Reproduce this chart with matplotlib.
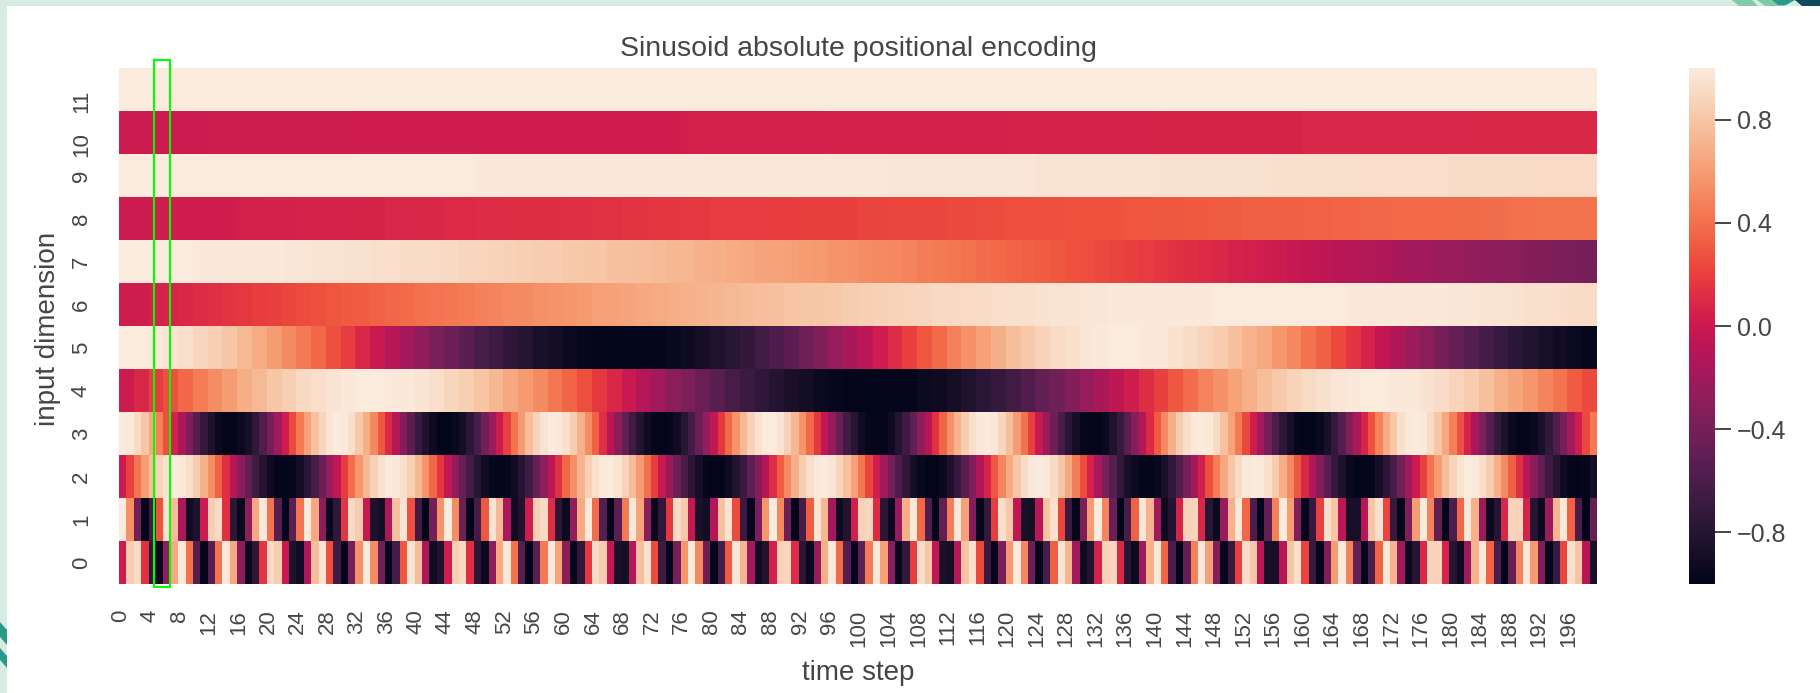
import numpy as np
import matplotlib
matplotlib.use('Agg')
import matplotlib.pyplot as plt
import matplotlib.transforms as mtransforms
import seaborn as sns
from matplotlib.patches import Polygon, Rectangle

plt.rcParams['font.family'] = ['Liberation Sans', 'DejaVu Sans']

W, H = 1820, 693
TEXT = '#454545'

# rows 0-3 read for every time step
dim_0 = [0.00,.84,.91,.14,-.76,-.96,-.28,.66,.99,.41,-.54,-1.00,-.54,.42,.99,.65,-.29,-.96,-.75,.15,
         .91,.84,-.01,-.85,-.91,-.13,.76,.96,.27,-.66,-.99,-.40,.55,1.00,.53,-.43,-.99,-.64,.30,.96,
         .75,-.16,-.92,-.83,.02,.85,.90,.12,-.77,-.95,-.26,.67,.99,.40,-.56,-1.00,-.52,.44,.99,.64,
         -.30,-.97,-.74,.17,.92,.83,-.03,-.86,-.90,-.11,.77,.95,.25,-.68,-.99,-.39,.57,1.00,.51,-.44,
         -.99,-.63,.31,.97,.73,-.18,-.92,-.82,.04,.86,.89,.11,-.78,-.95,-.25,.68,.98,.38,-.57,-1.00,
         -.51,.45,.99,.62,-.32,-.97,-.73,.19,.93,.81,-.04,-.86,-.89,-.10,.79,.94,.24,-.69,-.98,-.37,
         .58,1.00,.50,-.46,-1.00,-.62,.33,.97,.72,-.20,-.93,-.81,.06,.87,.89,.09,-.79,-.94,-.23,.70,
         .98,.36,-.59,-1.00,-.49,.47,.99,.61,-.34,-.97,-.71,.20,.93,.80,-.07,-.87,-.88,-.08,.80,.94,
         .22,-.70,-.98,-.35,.60,1.00,.48,-.48,-.99,-.60,.35,.98,.71,-.21,-.94,-.80,.08,.88,.87,.07,
         -.80,-.93,-.21,.71,.98,.34,-.61,-1.00,-.47,.49,.99,.59,-.35,-.98,-.70,.22,.94,.79,-.09,-.88]
dim_1 = [1.00,.54,-.42,-.99,-.65,.28,.96,.75,-.15,-.91,-.84,.00,.84,.91,.14,-.76,-.96,-.28,.66,.99,
         .41,-.55,-1.00,-.53,.42,.99,.65,-.29,-.96,-.75,.15,.91,.83,-.01,-.85,-.90,-.13,.77,.96,.27,
         -.67,-.99,-.40,.56,1.00,.53,-.44,-.99,-.64,.30,.96,.74,-.16,-.92,-.83,.02,.85,.90,.12,-.77,
         -.95,-.26,.67,.99,.39,-.56,-1.00,-.52,.44,.99,.63,-.31,-.97,-.74,.17,.92,.82,-.03,-.86,-.90,
         -.11,.78,.95,.25,-.68,-.98,-.38,.57,1.00,.51,-.45,-.99,-.63,.32,.97,.73,-.18,-.93,-.82,.04,
         .86,.89,.10,-.78,-.95,-.24,.69,.98,.37,-.58,-1.00,-.50,.46,.99,.62,-.33,-.97,-.72,.19,.93,
         .81,-.05,-.87,-.89,-.09,.79,.94,.23,-.69,-.98,-.37,.59,1.00,.49,-.46,-1.00,-.61,.34,.97,.71,
         -.20,-.93,-.81,.06,.87,.88,.08,-.79,-.94,-.23,.70,.98,.36,-.60,-1.00,-.49,.47,1.00,.60,-.34,
         -.97,-.71,.21,.94,.80,-.07,-.88,-.88,-.08,.80,.94,.22,-.71,-.98,-.35,.60,1.00,.48,-.49,-1.00,
         -.60,.36,.98,.70,-.22,-.94,-.80,.08,.88,.87,.06,-.80,-.94,-.21,.72,.98,.34,-.61,-.99,-.47]
dim_2 = [0.00,.21,.42,.60,.76,.88,.96,1.00,.99,.93,.83,.70,.53,.33,.12,-.09,-.30,-.50,-.67,-.81,
         -.92,-.98,-1.00,-.97,-.90,-.78,-.63,-.45,-.25,-.04,.18,.39,.57,.74,.86,.95,1.00,.99,.94,.85,
         .73,.56,.36,.16,-.05,-.27,-.47,-.64,-.79,-.91,-.97,-1.00,-.98,-.92,-.80,-.66,-.48,-.28,-.07,.14,
         .36,.54,.71,.85,.94,.99,1.00,.96,.87,.75,.59,.40,.19,-.02,-.23,-.44,-.62,-.77,-.89,-.97,
         -1.00,-.99,-.93,-.82,-.69,-.51,-.32,-.11,.11,.32,.52,.69,.83,.93,.99,1.00,.97,.89,.78,.62,
         .43,.23,.02,-.20,-.41,-.59,-.75,-.88,-.96,-1.00,-1.00,-.95,-.85,-.71,-.54,-.35,-.14,.07,.29,.49,
         .67,.81,.92,.99,1.00,.98,.91,.80,.65,.46,.26,.05,-.17,-.38,-.56,-.73,-.87,-.95,-1.00,-1.00,
         -.96,-.87,-.74,-.58,-.39,-.18,.04,.26,.46,.65,.80,.91,.99,1.00,.99,.93,.83,.68,.50,.30,
         .09,-.13,-.35,-.54,-.71,-.85,-.95,-1.00,-1.00,-.98,-.89,-.77,-.61,-.42,-.21,.00,.21,.42,.60,.76,
         .88,.96,1.00,.99,.93,.83,.70,.53,.33,.12,-.09,-.30,-.50,-.67,-.81,-.92,-.98,-1.00,-.97,-.90]
dim_3 = [1.00,.98,.91,.80,.65,.47,.27,.06,-.15,-.36,-.55,-.72,-.85,-.94,-.99,-1.00,-.95,-.87,-.74,-.58,
         -.39,-.18,.03,.24,.44,.62,.78,.89,.97,1.00,.99,.93,.82,.68,.50,.30,.10,-.12,-.33,-.52,
         -.70,-.83,-.93,-.99,-1.00,-.96,-.89,-.76,-.61,-.42,-.21,.00,.21,.41,.59,.76,.87,.96,1.00,.99,
         .94,.84,.70,.53,.34,.13,-.08,-.29,-.49,-.67,-.81,-.92,-.98,-1.00,-.97,-.91,-.79,-.64,-.46,-.25,
         -.04,.17,.38,.56,.74,.86,.95,1.00,1.00,.96,.86,.73,.56,.37,.17,-.05,-.26,-.46,-.65,-.79,
         -.91,-.98,-1.00,-.98,-.92,-.81,-.67,-.49,-.28,-.08,.14,.35,.54,.71,.84,.94,.99,1.00,.97,.89,
         .76,.60,.41,.20,-.01,-.23,-.43,-.62,-.78,-.89,-.97,-1.00,-.99,-.94,-.84,-.70,-.52,-.32,-.11,.10,
         .31,.51,.69,.83,.93,.98,1.00,.98,.91,.78,.63,.44,.24,.03,-.20,-.40,-.60,-.76,-.88,-.97,
         -1.00,-1.00,-.96,-.86,-.72,-.55,-.35,-.15,.07,.28,.48,.67,.81,.93,.98,1.00,.98,.91,.80,.65,
         .47,.27,.06,-.16,-.36,-.55,-.72,-.85,-.94,-.99,-1.00,-.95,-.87,-.74,-.58,-.39,-.18,.03,.24,.44]

# rows 4-7 read every 2 time steps
dim_4 = [0.00,.09,.18,.27,.36,.45,.53,.60,.68,.74,.80,.85,.90,.93,.96,.98,1.00,1.00,.99,.98,
         .96,.93,.89,.85,.79,.73,.66,.59,.52,.43,.35,.26,.17,.08,-.01,-.11,-.20,-.29,-.38,-.46,
         -.54,-.62,-.69,-.75,-.81,-.86,-.90,-.94,-.97,-.99,-1.00,-1.00,-.99,-.98,-.95,-.92,-.89,-.84,-.78,-.72,
         -.65,-.58,-.50,-.42,-.34,-.25,-.16,-.06,.03,.12,.21,.30,.39,.48,.55,.63,.70,.76,.82,.87,
         .91,.94,.97,.99,1.00,1.00,.99,.98,.95,.92,.88,.83,.77,.70,.64,.57,.49,.41,.32,.24]
dim_5 = [1.00,1.00,.98,.96,.93,.89,.85,.80,.74,.67,.60,.52,.44,.36,.27,.18,.09,-.01,-.10,-.19,
         -.28,-.37,-.45,-.53,-.61,-.68,-.75,-.80,-.86,-.90,-.94,-.97,-.99,-1.00,-1.00,-.99,-.98,-.96,-.93,-.89,
         -.84,-.79,-.73,-.66,-.59,-.52,-.43,-.34,-.25,-.16,-.07,.02,.11,.21,.29,.38,.47,.55,.62,.69,
         .76,.82,.87,.91,.94,.97,.99,1.00,1.00,.99,.98,.95,.92,.88,.83,.77,.71,.65,.57,.50,
         .41,.33,.24,.15,.06,-.04,-.13,-.22,-.31,-.40,-.48,-.56,-.64,-.71,-.77,-.82,-.87,-.91,-.95,-.97]
dim_6 = [.01,.03,.05,.07,.09,.11,.13,.15,.17,.19,.21,.23,.25,.27,.29,.31,.32,.34,.36,.38,
         .40,.42,.43,.45,.47,.49,.51,.52,.54,.56,.57,.59,.61,.62,.64,.65,.67,.68,.70,.71,
         .72,.74,.75,.76,.78,.79,.80,.81,.82,.84,.85,.86,.87,.88,.89,.90,.90,.91,.92,.93,
         .94,.94,.95,.96,.96,.97,.97,.98,.98,.98,.99,.99,.99,.99,1.00,1.00,1.00,1.00,1.00,1.00,
         1.00,1.00,1.00,.99,.99,.99,.99,.98,.98,.98,.97,.97,.96,.96,.95,.94,.94,.93,.92,.91]
dim_7 = [1.00,1.00,1.00,1.00,1.00,.99,.99,.99,.99,.98,.98,.97,.97,.96,.96,.95,.95,.94,.93,.92,
         .92,.91,.90,.89,.88,.87,.86,.85,.84,.83,.82,.81,.80,.78,.77,.76,.75,.73,.72,.70,
         .69,.67,.66,.64,.63,.61,.60,.58,.56,.55,.53,.51,.50,.48,.46,.44,.43,.41,.39,.37,
         .35,.33,.32,.30,.28,.26,.24,.22,.20,.18,.16,.14,.12,.10,.08,.06,.04,.02,.00,-.02,
         -.04,-.06,-.08,-.10,-.12,-.14,-.16,-.18,-.20,-.22,-.24,-.26,-.28,-.29,-.31,-.33,-.35,-.37,-.39,-.40]

# rows 8-11 change slowly, read every 4 time steps
dim_8 = [.00,.01,.02,.03,.04,.05,.06,.06,.07,.08,.09,.10,.11,.12,.12,.13,.14,.15,.16,.17,.18,.18,.19,.20,.21,
         .22,.23,.23,.24,.25,.26,.27,.28,.28,.29,.30,.31,.32,.33,.33,.34,.35,.36,.37,.37,.38,.39,.40,.41,.41]
dim_9 = [1.00,1.00,1.00,1.00,1.00,1.00,1.00,1.00,1.00,1.00,1.00,1.00,.99,.99,.99,.99,.99,.99,.99,.99,.98,.98,.98,.98,.98,
         .98,.97,.97,.97,.97,.97,.96,.96,.96,.96,.95,.95,.95,.95,.94,.94,.94,.93,.93,.93,.92,.92,.92,.91,.91]
dim_10 = [.00,.00,.00,.01,.01,.01,.01,.01,.02,.02,.02,.02,.02,.03,.03,.03,.03,.03,.03,.04,.04,.04,.04,.04,.05,
          .05,.05,.05,.05,.05,.06,.06,.06,.06,.06,.07,.07,.07,.07,.07,.08,.08,.08,.08,.08,.08,.09,.09,.09,.09]
dim_11 = [1.00,1.00,1.00,1.00,1.00,1.00,1.00,1.00,1.00,1.00,1.00,1.00,1.00,1.00,1.00,1.00,1.00,1.00,1.00,1.00,1.00,1.00,1.00,1.00,1.00,
          1.00,1.00,1.00,1.00,1.00,1.00,1.00,1.00,1.00,1.00,1.00,1.00,1.00,1.00,1.00,1.00,1.00,1.00,1.00,1.00,1.00,1.00,1.00,1.00,1.00]

cbar_ticks = [-0.8, -0.4, 0.0, 0.4, 0.8]


def px_axes(fig, left, top, right, bottom):
    return fig.add_axes([left / W, 1 - bottom / H, (right - left) / W, (bottom - top) / H])


def fig_poly(fig, points, color):
    # points are given in pixels from the top left corner
    xy = [(x / W, 1 - y / H) for x, y in points]
    fig.add_artist(Polygon(xy, closed=True, facecolor=color, edgecolor='none', transform=fig.transFigure))


pe = np.array([dim_0, dim_1, dim_2, dim_3,
               np.repeat(dim_4, 2), np.repeat(dim_5, 2),
               np.repeat(dim_6, 2), np.repeat(dim_7, 2),
               np.repeat(dim_8, 4), np.repeat(dim_9, 4),
               np.repeat(dim_10, 4), np.repeat(dim_11, 4)])

fig = plt.figure(figsize=(W / 100, H / 100), dpi=100, facecolor='white')

# slide background behind the chart
fig_poly(fig, [(0, 0), (W, 0), (W, 6), (7, 6), (7, H), (0, H)], '#d7ece1')
fig_poly(fig, [(1732, 0), (1752, 0), (1758, 6), (1739, 6)], '#80c9a9')
fig_poly(fig, [(1757, 0), (1778, 0), (1785, 6), (1765, 6)], '#80c9a9')
fig_poly(fig, [(1772, 0), (1795, 0), (1786, 5), (1778, 5)], '#2a9a8d')
fig_poly(fig, [(1795, 0), (W, 0), (W, 6), (1802, 6)], '#0c4a5e')
fig_poly(fig, [(0, 622), (7, 630), (7, 645), (0, 637)], '#2a9a8d')
fig_poly(fig, [(0, 648), (7, 656), (7, 668), (0, 660)], '#2a9a8d')

ax = px_axes(fig, 119, 68, 1597, 584)
cax = px_axes(fig, 1689, 68, 1715, 584)

sns.heatmap(pe, ax=ax, cbar_ax=cax, cmap='rocket', vmin=-1, vmax=1, xticklabels=4, yticklabels=1)
ax.invert_yaxis()

ax.tick_params(axis='x', length=0, pad=18.5, labelsize=16, labelcolor=TEXT, labelrotation=90)
ax.tick_params(axis='y', length=0, pad=19.5, labelsize=16, labelcolor=TEXT, labelrotation=90)
for label in ax.get_yticklabels():
    label.set_va('top' if len(label.get_text()) > 1 else 'center')

# x labels sit a little left of the cell centres
shift = mtransforms.ScaledTranslation(-2.5 / 100, 0, fig.dpi_scale_trans)
for label in ax.get_xticklabels():
    label.set_transform(label.get_transform() + shift)

ax.set_title('Sinusoid absolute positional encoding', fontsize=20.5, color=TEXT, pad=9)
ax.set_xlabel('time step', fontsize=20, color=TEXT)
ax.set_ylabel('input dimension', fontsize=20, color=TEXT)
ax.xaxis.set_label_coords(0.5, -0.148)
ax.yaxis.set_label_coords(-0.039, 0.495)

cax.set_yticks(cbar_ticks)
cax.set_yticklabels(['\u22120.8', '\u22120.4', '0.0', '0.4', '0.8'])
cax.tick_params(axis='y', length=11.5, width=1.4, color='#444444', pad=4, labelsize=18, labelcolor=TEXT)

# green marker around one column
ax.add_patch(Rectangle((4.75, -0.07), 2.15, 12.25, fill=False, edgecolor='#00ff00', linewidth=1.5, clip_on=False))

fig.savefig('out.png', dpi=100, facecolor=fig.get_facecolor())
